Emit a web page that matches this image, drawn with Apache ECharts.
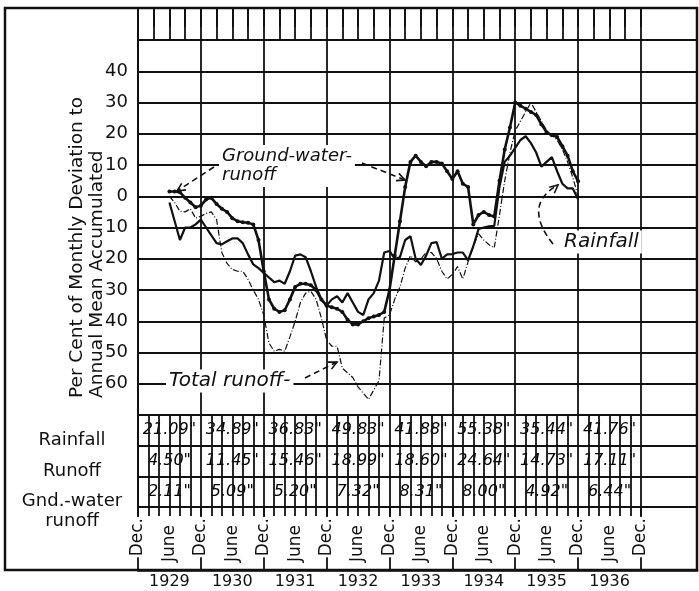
<!DOCTYPE html>
<html>
<head>
<meta charset="utf-8">
<script src="https://cdn.jsdelivr.net/npm/echarts@6/dist/echarts.min.js"></script>
<style>
html, body { margin: 0; padding: 0; background: #fff; }
#chart { width: 699px; height: 591px; }
</style>
</head>
<body>
<div id="chart"></div>
<script>
// months are counted from Dec. 1928 (= 0), a Dec. line every 12 months
const firstMonth = 6; // June 1929, first plotted month

// per cent of monthly deviation to annual mean, accumulated (one value a month, June 1929 .. Dec. 1935)
const groundWater = [
    1.5, 1.5, 1.3, -0.5, -2, -3.5,
    -3, -1, -0.5, -2.5, -4, -5, -7, -8, -8.3, -8.5, -9, -14,
    -24, -33, -36, -37, -36.5, -33, -29, -28, -28, -28.5, -30, -33,
    -35, -35.5, -36, -37, -39.5, -41, -41, -40, -39, -38.5, -38, -37,
    -30, -19, -8, 3, 11, 13, 11, 9.6, 11, 11, 10.5, 8,
    5.5, 8, 4, 3, -9, -6, -5, -6, -6.5, 5, 15, 22,
    30, 29, 28, 27, 26, 23, 20.5, 19.5, 19, 16, 13, 8, 4.8
];
const rainfall = [
    -2, -8, -14, -10, -10, -9,
    -7.5, -10, -12.5, -15, -15.4, -14.4, -13.5, -13.5, -15, -18.6, -21.8, -23,
    -24.5, -26, -27.5, -27, -28, -24, -19, -18.6, -19.5, -24, -29, -33,
    -35, -33, -32, -34, -31, -34, -37, -38, -33, -31, -27, -18,
    -17.5, -20, -19.5, -14, -12.8, -20, -22, -19, -15, -14.7, -20, -18.6,
    -18.5, -18, -18, -20.5, -16, -10.5, -10, -9.6, -9.5, 3, 11, 13,
    15.5, 18, 19.2, 17, 14, 9.5, 11, 12.5, 8, 4, 2.5, 2.5, -1
];
const totalRunoff = [
    0, -2, -4.8, -5, -4, -7,
    -6.4, -5.5, -5, -7.5, -18, -21.5, -23.4, -24, -24, -26.6, -30, -33,
    -38, -47, -49.6, -49, -49.6, -45, -40, -34, -31, -30.4, -33, -39,
    -46, -48, -48, -55, -56.5, -58, -61, -63, -65, -62, -59, -39,
    -38, -33, -29, -23, -19, -21, -20, -18, -18, -20, -24, -26.5,
    -25, -22.5, -26.5, -21, -16, -12, -14, -15.5, -16.5, -6, 5, 14,
    21, 24, 27, 30, 27, 24, 21, 19.5, 18, 15, 11, 6, 0
];

// yearly totals table
const years = ['1929', '1930', '1931', '1932', '1933', '1934', '1935', '1936'];
const rowNames = ['Rainfall', 'Runoff', 'Gnd.-water\nrunoff'];
const rainTotals = ['21.09', '34.89', '36.83', '49.83', '41.88', '55.38', '35.44', '41.76'];
const runoffTotals = ['4.50', '11.45', '15.46', '18.99', '18.60', '24.64', '14.73', '17.11'];
const gndTotals = ['2.11', '5.09', '5.20', '7.32', '8.31', '8.00', '4.92', '6.44'];
const monthNames = ['Dec.', 'June'];

const X_MAX = 106.7; // right edge of the frame, in months
const INK = '#111';
const FONT = 'DejaVu Sans';

const toPairs = vals => vals.map((v, i) => [firstMonth + i, v]);
const range = (a, b, step) => { const r = []; for (let v = a; v <= b; v += step) r.push(v); return r; };

const gridLine = { show: true, lineStyle: { color: INK, width: 1.8 } };
const noLabel = { show: false };
const noTick = { show: false };

// table cells
const tableCells = [];
[rainTotals, runoffTotals, gndTotals].forEach((row, r) => {
    row.forEach((val, i) => tableCells.push([6 + 12 * i, r, val]));
});

// dashed annotation arrow
function arrowHead(x1, y1, x2, y2) {
    const a = Math.atan2(y2 - y1, x2 - x1), L = 9;
    return {
        type: 'polyline', z: 3, silent: true,
        shape: { points: [
            [x2 - L * Math.cos(a - 0.45), y2 - L * Math.sin(a - 0.45)],
            [x2, y2],
            [x2 - L * Math.cos(a + 0.45), y2 - L * Math.sin(a + 0.45)]
        ] },
        style: { stroke: INK, lineWidth: 1.6, fill: null }
    };
}
function arrow(x1, y1, x2, y2) {
    return [
        { type: 'line', z: 3, silent: true, shape: { x1, y1, x2, y2 },
          style: { stroke: INK, lineWidth: 1.6, lineDash: [6, 4] } },
        arrowHead(x1, y1, x2, y2)
    ];
}
function note(text, x, y, size) {
    return {
        type: 'text', z: 1, silent: true, x, y,
        style: {
            text, font: 'italic ' + size + 'px "' + FONT + '"', fill: INK,
            align: 'left', textAlign: 'left', verticalAlign: 'middle', textVerticalAlign: 'middle',
            lineHeight: 19, backgroundColor: '#fff', padding: [2, 3, 2, 3]
        }
    };
}

const chart = echarts.init(document.getElementById('chart'));

const option = {
    animation: false,
    backgroundColor: '#fff',
    textStyle: { fontFamily: FONT, color: INK },
    grid: [
        { left: 138, top: 40, width: 559, height: 375, outerBoundsMode: 'none' }, // plot
        { left: 138, top: 8, width: 559, height: 32, outerBoundsMode: 'none' },   // tick band
        { left: 138, top: 415, width: 559, height: 92, outerBoundsMode: 'none' }, // table
        { left: 138, top: 507, width: 559, height: 63, outerBoundsMode: 'none' }  // date strip
    ],
    xAxis: [
        { gridIndex: 0, type: 'value', min: 0, max: X_MAX, interval: 12,
          axisLine: { show: false, onZero: false }, axisTick: noTick, axisLabel: noLabel, splitLine: gridLine },
        { gridIndex: 1, type: 'value', position: 'top', min: 0, max: X_MAX, interval: 12,
          axisLine: { show: true, onZero: false, lineStyle: { color: INK, width: 2 } },
          axisTick: { show: true, inside: true, length: 19, customValues: range(0, 96, 3),
                      lineStyle: { color: INK, width: 2 } },
          axisLabel: noLabel, splitLine: gridLine },
        { gridIndex: 2, type: 'value', position: 'bottom', min: 0, max: X_MAX, interval: 12, z: 5,
          axisLine: { show: true, onZero: false, lineStyle: { color: INK, width: 2 } },
          axisTick: { show: true, length: 9, customValues: range(0, 96, 2),
                      lineStyle: { color: INK, width: 1.8 } },
          axisLabel: {
              show: true, customValues: range(0, 96, 6), rotate: 90, margin: 10,
              formatter: v => (v % 12 === 0 ? '{d|' + monthNames[0] + '}' : '{j|' + monthNames[1] + '}'),
              rich: {
                  d: { fontSize: 17, fontFamily: FONT, color: INK, backgroundColor: '#fff', padding: [0, 1, 0, 1] },
                  j: { fontSize: 17, fontFamily: FONT, color: INK, padding: [0, 8, 0, 0] }
              }
          },
          splitLine: gridLine },
        { gridIndex: 3, type: 'value', position: 'bottom', min: 0, max: X_MAX, interval: 12,
          axisLine: { show: true, onZero: false, lineStyle: { color: INK, width: 2.5 } },
          axisTick: noTick,
          axisLabel: { show: true, customValues: range(6, 90, 12), margin: 4, fontSize: 16, color: INK,
                       formatter: v => years[(v - 6) / 12] },
          splitLine: gridLine }
    ],
    yAxis: [
        { gridIndex: 0, type: 'value', min: -70, max: 50, interval: 10,
          axisLine: { show: true, onZero: false, lineStyle: { color: INK, width: 2 } }, axisTick: noTick,
          axisLabel: { fontSize: 18, color: INK, margin: 10,
                       formatter: v => (v >= 50 || v <= -70 ? '' : String(Math.abs(v))) },
          splitLine: gridLine },
        { gridIndex: 1, type: 'value', min: 0, max: 1,
          axisLine: { show: true, onZero: false, lineStyle: { color: INK, width: 2 } }, axisTick: noTick,
          axisLabel: noLabel, splitLine: { show: false } },
        { gridIndex: 2, type: 'category', inverse: true, data: rowNames,
          axisLine: { show: true, onZero: false, lineStyle: { color: INK, width: 2 } }, axisTick: noTick,
          axisLabel: { interval: 0, fontSize: 18, color: INK, align: 'center', verticalAlign: 'top',
                       margin: 66, lineHeight: 20 },
          splitLine: gridLine },
        { gridIndex: 3, type: 'value', show: false, min: 0, max: 1 }
    ],
    series: [
        { name: 'Ground-water runoff', type: 'line', xAxisIndex: 0, yAxisIndex: 0,
          data: toPairs(groundWater), symbol: 'circle', symbolSize: 4, showAllSymbol: true,
          itemStyle: { color: INK }, lineStyle: { color: INK, width: 2.6 }, silent: true, z: 4 },
        { name: 'Rainfall', type: 'line', xAxisIndex: 0, yAxisIndex: 0,
          data: toPairs(rainfall), symbol: 'none',
          lineStyle: { color: INK, width: 2.2 }, silent: true, z: 3 },
        { name: 'Total runoff', type: 'line', xAxisIndex: 0, yAxisIndex: 0,
          data: toPairs(totalRunoff), symbol: 'none',
          lineStyle: { color: INK, width: 1.2, type: [6, 2, 1, 2] }, silent: true, z: 3 },
        { name: 'Totals', type: 'scatter', xAxisIndex: 2, yAxisIndex: 2,
          data: tableCells, symbolSize: 0, silent: true, itemStyle: { color: INK, opacity: 1 },
          label: { show: true, position: 'inside', formatter: p => p.data[2] + '"', opacity: 1,
                   fontSize: 16, fontStyle: 'italic', fontFamily: FONT, color: '#000',
                   textBorderWidth: 0, textBorderColor: 'transparent' } }
    ],
    graphic: [
        // frame
        { type: 'rect', z: 6, silent: true, shape: { x: 5, y: 8, width: 692, height: 562 },
          style: { fill: null, stroke: INK, lineWidth: 2.5 } },
        // axis title
        { type: 'text', z: 6, silent: true, x: 87, y: 398, rotation: Math.PI / 2,
          style: { text: 'Per Cent of Monthly Deviation to\nAnnual Mean Accumulated',
                   font: '18.5px "' + FONT + '"', fill: INK, lineHeight: 20,
                   align: 'left', textAlign: 'left', verticalAlign: 'middle', textVerticalAlign: 'middle' } },
        note('Ground-water-\nrunoff', 219, 166, 18),
        ...arrow(362, 163, 405, 180),
        ...arrow(214, 167, 177, 191),
        note('Total runoff-', 166, 381, 20),
        ...arrow(305, 378, 337, 362),
        note('Rainfall', 561, 242, 20),
        { type: 'bezierCurve', z: 3, silent: true,
          shape: { x1: 553, y1: 244, cpx1: 522, cpy1: 205, x2: 558, y2: 185 },
          style: { stroke: INK, lineWidth: 1.6, lineDash: [6, 4], fill: null } },
        arrowHead(545, 196, 558, 185)
    ]
};

chart.setOption(option);
</script>
</body>
</html>
